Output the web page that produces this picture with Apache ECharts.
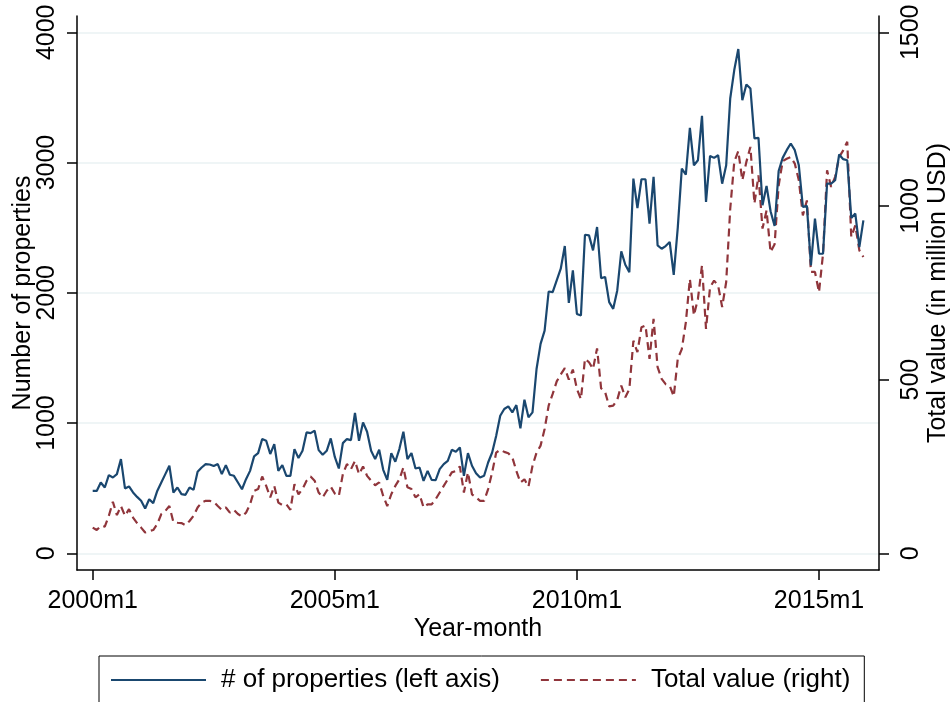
<!DOCTYPE html>
<html><head><meta charset="utf-8">
<script src="https://cdn.jsdelivr.net/npm/echarts@6/dist/echarts.min.js"></script>
<style>html,body{margin:0;padding:0;background:#fff}#c{width:950px;height:702px}</style>
</head><body><div id="c"></div>
<script>
const startYear = 2000;
const xTicks = [0, 60, 120, 180];
const leftTicks = [0, 1000, 2000, 3000, 4000];
const rightTicks = [0, 500, 1000, 1500];
const properties = [
 479,479,544,505,600,582,608,723,498,513,467,433,
 403,344,415,385,479,544,608,672,467,505,454,449,
 505,487,626,659,685,682,670,685,608,677,603,595,
 544,492,569,633,744,769,877,864,762,838,633,677,
 595,595,800,731,787,928,923,941,792,756,787,882,
 740,651,846,877,869,1077,864,1005,933,787,723,795,
 641,564,769,703,800,933,723,769,651,659,556,633,
 564,562,646,685,710,795,780,813,595,769,672,615,
 582,595,697,774,903,1056,1108,1128,1082,1138,959,1179,
 1044,1082,1415,1608,1710,2010,2005,2095,2185,2359,1923,2172,
 1838,1826,2446,2441,2326,2505,2113,2121,1928,1877,2018,2318,
 2215,2159,2877,2651,2872,2872,2531,2890,2364,2338,2359,2390,
 2138,2500,2954,2908,3267,2979,3018,3359,2697,3051,3036,3056,
 2838,2979,3492,3710,3872,3479,3600,3569,3185,3190,2672,2821,
 2626,2513,2935,3036,3095,3146,3095,2979,2659,2667,2210,2569,
 2300,2300,2838,2838,2864,3062,3026,3018,2574,2608,2351,2556
];
const totalValue = [
 74,67,79,77,108,148,110,136,108,127,103,87,
 74,60,64,67,84,113,122,136,90,88,87,81,
 93,108,132,146,151,151,148,136,125,132,117,125,
 113,106,117,141,180,185,221,194,161,194,146,139,
 141,125,199,170,185,209,221,209,175,161,180,192,
 172,165,228,257,242,266,228,250,223,209,196,204,
 165,136,170,194,213,247,190,185,161,170,132,141,
 141,156,175,194,213,233,237,250,175,233,170,161,
 151,151,185,233,290,298,292,288,276,237,204,213,
 192,252,290,310,358,425,459,495,515,533,500,529,
 473,444,560,550,531,590,475,464,423,425,442,483,
 449,473,612,579,651,656,560,675,536,502,487,483,
 452,560,588,665,790,685,733,829,646,766,785,771,
 709,781,992,1127,1158,1074,1127,1170,1007,1088,935,987,
 867,890,1059,1129,1136,1141,1122,1074,973,1016,810,810,
 752,862,1103,1055,1084,1141,1160,1185,911,944,872,853
];
const months = properties.map((_, i) => (startYear + Math.floor(i / 12)) + 'm' + (i % 12 + 1));

const FONT = '"Liberation Sans", Arial, sans-serif';
const FS = 25;
const BLUE = '#1a476f';
const RED = '#90353b';
const chart = echarts.init(document.getElementById('c'), null, {renderer: 'canvas'});
const axisLine = {show: true, onZero: false, lineStyle: {color: '#000', width: 1.5}};
const tick = vals => ({show: true, length: 10, customValues: vals, lineStyle: {color: '#000', width: 1.5}});
const option = {
  animation: false,
  backgroundColor: '#fff',
  textStyle: {fontFamily: FONT},
  grid: {left: 77, right: 71, top: 16, bottom: 132, containLabel: false, outerBoundsMode: 'none'},
  xAxis: {
    type: 'value', min: -3.89, max: 194.87,
    name: 'Year-month', nameLocation: 'middle', nameGap: 47, nameMoveOverlap: false,
    nameTextStyle: {fontSize: FS, color: '#000', fontFamily: FONT},
    axisLine: axisLine,
    axisTick: tick(xTicks),
    axisLabel: {customValues: xTicks, formatter: v => months[Math.round(v)], fontSize: FS, color: '#000', margin: 19, fontFamily: FONT},
    splitLine: {show: false}
  },
  yAxis: [{
    type: 'value', min: -128.2, max: 4125.2, position: 'left',
    name: 'Number of properties', nameLocation: 'middle', nameGap: 41, nameMoveOverlap: false,
    nameTextStyle: {fontSize: FS, color: '#000', fontFamily: FONT},
    axisLine: axisLine,
    axisTick: tick(leftTicks),
    axisLabel: {customValues: leftTicks, formatter: v => String(v), rotate: 90, fontSize: FS, color: '#000', margin: 17, fontFamily: FONT},
    splitLine: {show: true, lineStyle: {color: '#eaf2f3', width: 1.5}}
  }, {
    type: 'value', min: -48.075, max: 1546.95, position: 'right',
    name: 'Total value (in million USD)', nameLocation: 'middle', nameGap: 47, nameMoveOverlap: false,
    nameTextStyle: {fontSize: FS, color: '#000', fontFamily: FONT},
    axisLine: axisLine,
    axisTick: tick(rightTicks),
    axisLabel: {customValues: rightTicks, formatter: v => String(v), rotate: 90, fontSize: FS, color: '#000', margin: 20, fontFamily: FONT},
    splitLine: {show: false}
  }],
  legend: {
    left: 99, top: 656, orient: 'horizontal',
    itemWidth: 95, itemHeight: 14, itemGap: 40,
    borderColor: '#000', borderWidth: 1, padding: [11, 14, 12, 11],
    itemStyle: {opacity: 0},
    textStyle: {fontSize: 26, color: '#000', fontFamily: FONT, padding: [0, 0, 0, 10]},
    data: ['# of properties (left axis)', 'Total value (right)']
  },
  series: [{
    name: '# of properties (left axis)', type: 'line', yAxisIndex: 0,
    symbol: 'none', showSymbol: false,
    lineStyle: {color: BLUE, width: 2.2}, itemStyle: {color: BLUE},
    data: properties.map((v, i) => [i, v]), z: 3
  }, {
    name: 'Total value (right)', type: 'line', yAxisIndex: 1,
    symbol: 'none', showSymbol: false,
    lineStyle: {color: RED, width: 2.2, type: [8, 5]}, itemStyle: {color: RED},
    data: totalValue.map((v, i) => [i, v]), z: 2
  }]
};
chart.setOption(option);
</script>
</body></html>
